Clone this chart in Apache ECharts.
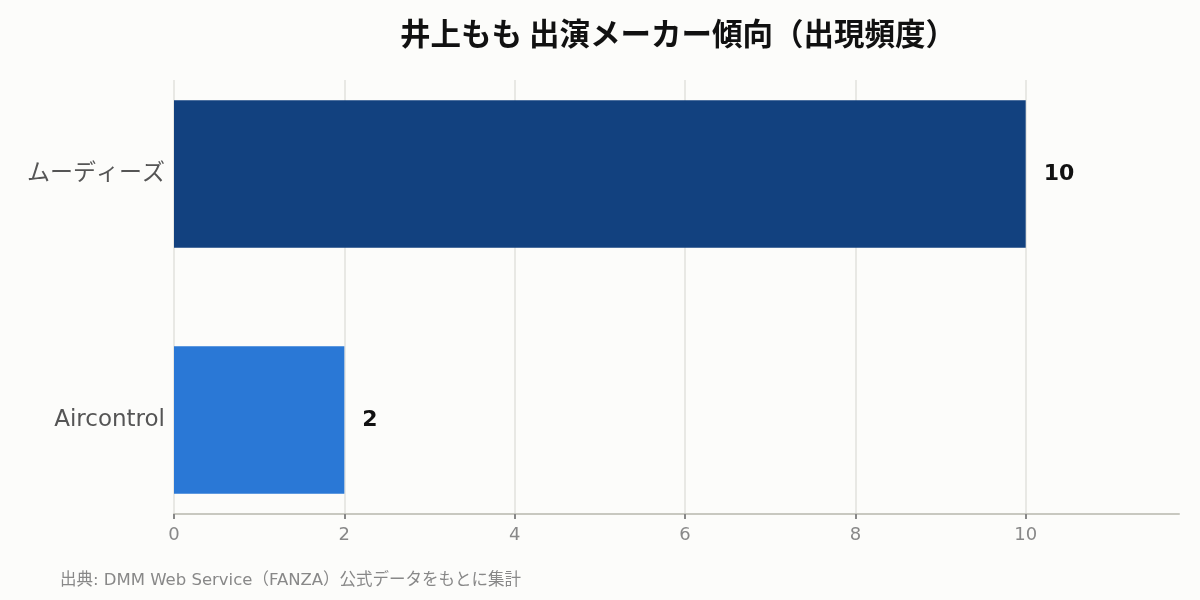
<!DOCTYPE html>
<html>
<head>
<meta charset="utf-8">
<script src="https://cdn.jsdelivr.net/npm/echarts@6/dist/echarts.min.js"></script>
<style>
  html, body { margin: 0; padding: 0; background: #fcfcfa; }
  #chart { width: 1200px; height: 600px; }
</style>
</head>
<body>
<div id="chart"></div>
<script>
// data
var makers = ['ムーディーズ', 'Aircontrol'];
var counts = [10, 2];
var barColors = ['#12417f', '#2a78d6'];
var tickValues = [0, 2, 4, 6, 8, 10];

var fontJa = '"DejaVu Sans", "Noto Sans CJK JP", sans-serif';

var myChart = echarts.init(document.getElementById('chart'));

var option = {
	backgroundColor: '#fcfcfa',
	title: [{
		text: '井上もも 出演メーカー傾向（出現頻度）',
		left: 678,
		top: 18,
		padding: 0,
		textAlign: 'center',
		textStyle: {
			fontFamily: '"Noto Sans CJK JP", sans-serif',
			fontSize: 30.5,
			fontWeight: 'bold',
			color: '#111'
		}
	}, {
		text: '出典: DMM Web Service（FANZA）公式データをもとに集計',
		left: 60,
		top: 572,
		padding: 0,
		textStyle: {
			fontFamily: fontJa,
			fontSize: 16.5,
			fontWeight: 'normal',
			color: '#888'
		}
	}],
	grid: [
		// bars
		{ left: 174, right: 21, top: 51, height: 492 },
		// axis + grid lines
		{ left: 174, right: 21, top: 80, bottom: 86 }
	],
	xAxis: [{
		gridIndex: 0,
		type: 'value',
		min: 0,
		max: 11.8,
		show: false
	}, {
		gridIndex: 1,
		type: 'value',
		min: 0,
		max: 11.8,
		axisLine: { show: true, lineStyle: { color: '#c8c8c0', width: 2 } },
		axisTick: { show: true, length: 5, customValues: tickValues, lineStyle: { color: '#888', width: 2 } },
		axisLabel: {
			customValues: tickValues,
			margin: 12,
			fontSize: 18,
			color: '#888',
			fontFamily: fontJa
		},
		splitLine: {
			show: true,
			lineStyle: { color: ['#e2e2dd', '#e2e2dd', '#e2e2dd', '#e2e2dd', '#e2e2dd', '#e2e2dd', 'rgba(0,0,0,0)'], width: 1.5 }
		}
	}],
	yAxis: [{
		gridIndex: 0,
		type: 'category',
		inverse: true,
		data: makers,
		axisLine: { show: false },
		axisTick: { show: false },
		axisLabel: {
			margin: 9,
			fontSize: 23,
			color: '#555',
			fontFamily: fontJa
		}
	}, {
		gridIndex: 1,
		type: 'value',
		min: 0,
		max: 1,
		show: false
	}],
	series: [{
		type: 'bar',
		xAxisIndex: 0,
		yAxisIndex: 0,
		barWidth: '60%',
		data: counts.map(function(v, i) {
			return { value: v, itemStyle: { color: barColors[i] } };
		}),
		label: {
			show: true,
			position: 'right',
			distance: 18,
			fontSize: 22,
			fontWeight: 'bold',
			color: '#111',
			fontFamily: fontJa
		}
	}]
};

myChart.setOption(option);
</script>
</body>
</html>
